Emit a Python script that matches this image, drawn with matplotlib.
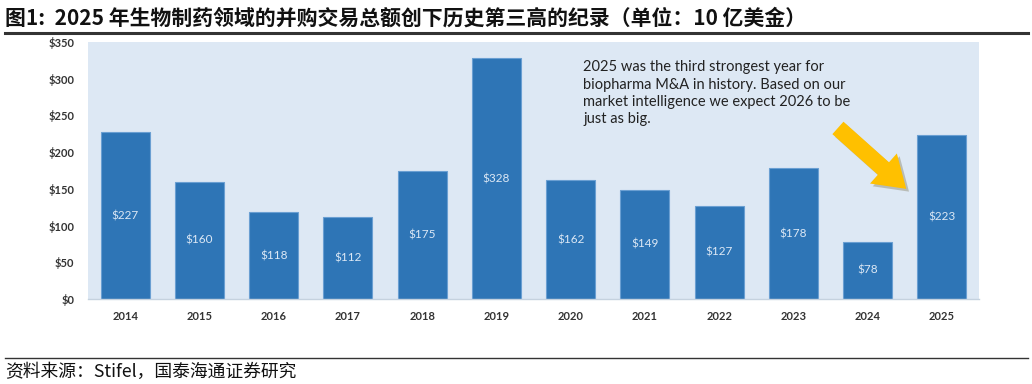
import matplotlib.pyplot as plt
import matplotlib.patheffects as pe
from matplotlib.lines import Line2D

# 数据
years = ["2014", "2015", "2016", "2017", "2018", "2019",
         "2020", "2021", "2022", "2023", "2024", "2025"]
values = [227, 160, 118, 112, 175, 328, 162, 149, 127, 178, 78, 223]
yticks = [0, 50, 100, 150, 200, 250, 300, 350]

title = "图1:  2025 年生物制药领域的并购交易总额创下历史第三高的纪录（单位：10 亿美金）"
source = "资料来源：Stifel，国泰海通证券研究"
note = ("2025 was the third strongest year for\n"
        "biopharma M&A in history. Based on our\n"
        "market intelligence we expect 2026 to be\n"
        "just as big.")

cjk = ["Noto Sans CJK SC", "DejaVu Sans"]

fig = plt.figure(figsize=(10.32, 3.84), dpi=100)
ax = fig.add_axes([88 / 1032, 85 / 384, 891 / 1032, 257 / 384])
ax.set_facecolor("#dde8f4")

x = list(range(len(years)))
bars = ax.bar(x, values, width=0.66, color="#2e75b6", edgecolor="#6a9fd2", linewidth=0.8)
for xi, v in zip(x, values):
    ax.text(xi, v / 2, f"${v}", ha="center", va="center", color="#dce8f5",
            fontsize=8.5, family="Lato")

ax.set_xlim(-0.5, len(years) - 0.5)
ax.set_ylim(0, 350)
ax.set_xticks(x)
ax.set_xticklabels(years, fontsize=8, color="#333333", family="Lato", fontweight="bold")
ax.set_yticks(yticks)
ax.set_yticklabels([f"${t}" for t in yticks], fontsize=8, color="#333333",
                   family="Lato", fontweight="bold")
ax.tick_params(length=0)
ax.tick_params(axis="y", pad=10)
ax.tick_params(axis="x", pad=9)
for s in ["top", "right", "left"]:
    ax.spines[s].set_visible(False)
ax.spines["bottom"].set_color("#c5d2df")
ax.spines["bottom"].set_linewidth(1)

ax.text(6.17, 325, note, fontsize=10.5, family="Lato", color="#222222",
        va="top", ha="left", linespacing=1.3)

ax.annotate("", xy=(10.52, 150), xytext=(9.6, 233),
            arrowprops=dict(arrowstyle="simple,head_length=2.2,head_width=2.9,tail_width=1.2",
                            fc="#ffc000", ec="none", shrinkA=0, shrinkB=0,
                            path_effects=[pe.SimplePatchShadow(offset=(2, -2), alpha=0.25),
                                          pe.Normal()]))

# 标题和来源
fig.text(5 / 1032, 1 - 18 / 384, title, fontsize=15, fontweight="bold",
         family=cjk, va="center", ha="left", color="#111111")
fig.add_artist(Line2D([5 / 1032, 1028 / 1032], [1 - 33 / 384, 1 - 33 / 384],
                      color="#333333", linewidth=2.2))
fig.add_artist(Line2D([5 / 1032, 1028 / 1032], [1 - 358 / 384, 1 - 358 / 384],
                      color="#333333", linewidth=1))
fig.text(5 / 1032, 1 - 372 / 384, source, fontsize=12.8, family=cjk,
         va="center", ha="left", color="#111111")

fig.savefig("out.png", dpi=100)
